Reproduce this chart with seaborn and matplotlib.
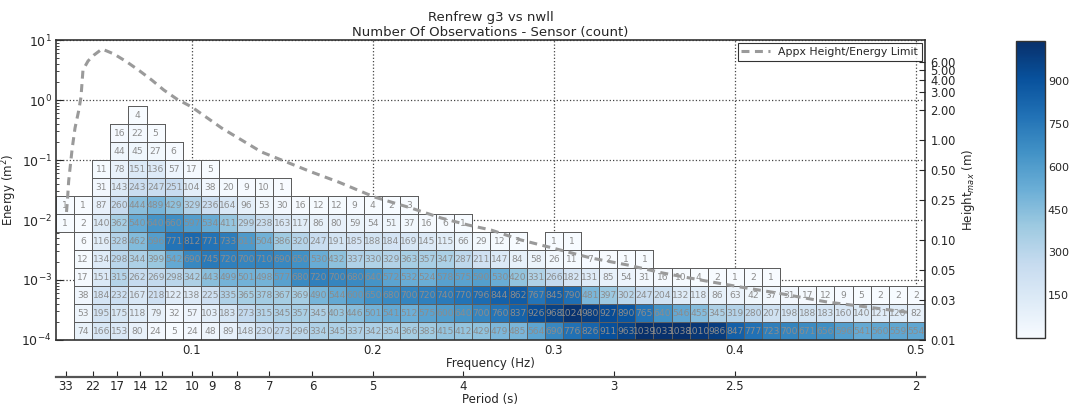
import numpy as np
import pandas as pd
import matplotlib
matplotlib.use("Agg")
import matplotlib.pyplot as plt
from matplotlib.ticker import NullLocator
import seaborn as sns

# ---------------- data ----------------
N = np.nan
# frequency bin centres (Hz), bin width 0.01
freq_centers = [0.03, 0.04, 0.05, 0.06, 0.07, 0.08, 0.09, 0.10, 0.11, 0.12, 0.13, 0.14,
                0.15, 0.16, 0.17, 0.18, 0.19, 0.20, 0.21, 0.22, 0.23, 0.24, 0.25, 0.26,
                0.27, 0.28, 0.29, 0.30, 0.31, 0.32, 0.33, 0.34, 0.35, 0.36, 0.37, 0.38,
                0.39, 0.40, 0.41, 0.42, 0.43, 0.44, 0.45, 0.46, 0.47, 0.48, 0.49, 0.50]
freq_step = 0.01
# log10(energy) lower edge of each row, rows 0.3 decades tall
log_energy_edges = [-4.0, -3.7, -3.4, -3.1, -2.8, -2.5, -2.2, -1.9, -1.6, -1.3, -1.0, -0.7, -0.4]
log_energy_step = 0.3

row_00 = [N, 74, 166, 153, 80, 24, 5, 24, 48, 89, 148, 230, 273, 296, 334, 345, 337, 342, 354, 366, 383,
          415, 412, 429, 479, 485, 564, 690, 776, 826, 911, 963, 1039, 1033, 1038, 1010, 986, 847, 777,
          723, 700, 671, 656, 596, 541, 560, 559, 554]
row_01 = [N, 53, 195, 175, 118, 79, 32, 57, 103, 183, 273, 315, 345, 357, 345, 403, 446, 501, 541, 512,
          575, 600, 640, 700, 760, 837, 926, 968, 1024, 980, 927, 890, 765, 640, 546, 455, 345, 319, 280,
          207, 198, 188, 183, 160, 140, 121, 120, 82]
row_02 = [N, 38, 184, 232, 167, 218, 122, 138, 225, 335, 365, 378, 367, 369, 490, 544, 600, 650, 680,
          700, 720, 740, 770, 796, 844, 862, 767, 845, 790, 481, 397, 302, 247, 204, 132, 118, 86, 63, 42,
          37, 31, 17, 12, 9, 5, 2, 2, 2]
row_03 = [N, 17, 151, 315, 262, 269, 298, 342, 443, 499, 501, 498, 577, 680, 720, 700, 680, 640, 572,
          532, 524, 578, 575, 590, 530, 420, 331, 266, 182, 131, 85, 54, 31, 16, 10, 4, 2, 1, 2, 1,
          N, N, N, N, N, N, N, N]
row_04 = [N, 12, 134, 298, 344, 399, 542, 690, 745, 720, 700, 710, 690, 650, 530, 432, 337, 330, 329,
          363, 357, 347, 287, 211, 147, 84, 58, 26, 11, 7, 2, 1, 1,
          N, N, N, N, N, N, N, N, N, N, N, N, N, N, N]
row_05 = [N, 6, 116, 328, 462, 596, 771, 812, 771, 733, 611, 504, 386, 320, 247, 191, 185, 188, 184,
          169, 145, 115, 66, 29, 12, 2, N, 1, 1,
          N, N, N, N, N, N, N, N, N, N, N, N, N, N, N, N, N, N, N]
row_06 = [1, 2, 140, 362, 540, 640, 660, 597, 534, 411, 299, 238, 163, 117, 86, 80, 59, 54, 51, 37, 16,
          6, 1] + [N] * 25
row_07 = [1, 1, 87, 260, 444, 489, 429, 329, 236, 164, 96, 53, 30, 16, 12, 12, 9, 4, 2, 3] + [N] * 28
row_08 = [N, N, 31, 143, 243, 247, 251, 104, 38, 20, 9, 10, 1] + [N] * 35
row_09 = [N, N, 11, 78, 151, 136, 57, 17, 5] + [N] * 39
row_10 = [N, N, N, 44, 45, 27, 6] + [N] * 41
row_11 = [N, N, N, 16, 22, 5] + [N] * 42
row_12 = [N, N, N, N, 4] + [N] * 43

# approximate height / energy limit curve
line_freq = [0.0308, 0.0314, 0.0320, 0.0339, 0.0355, 0.0375, 0.0388, 0.0399, 0.0427, 0.0460, 0.0504,
             0.0570, 0.0642, 0.0713, 0.0779, 0.0845, 0.0917, 0.1000, 0.1165, 0.1385, 0.1661, 0.1810,
             0.2008, 0.2212, 0.2377, 0.2526, 0.2653, 0.2818, 0.2994, 0.3204, 0.3407, 0.3600, 0.3810,
             0.4030, 0.4234, 0.4509, 0.4730, 0.4983]
line_energy = [0.0136, 0.0233, 0.0447, 0.152, 0.341, 0.656, 1.12, 3.16, 4.47, 5.62, 7.08,
               5.85, 4.30, 3.04, 2.15, 1.47, 1.04, 0.764, 0.341, 0.136, 0.0631, 0.0430,
               0.0242, 0.0158, 0.0108, 0.00826, 0.00681, 0.00465, 0.00341, 0.00233, 0.00178, 0.00131, 0.00100,
               0.000764, 0.000607, 0.000430, 0.000355, 0.000282]

freq_ticks = [0.1, 0.2, 0.3, 0.4, 0.5]
freq_ticklabels = ["0.1", "0.2", "0.3", "0.4", "0.5"]
energy_ticks = [1e-4, 1e-3, 1e-2, 1e-1, 1e0, 1e1]
energy_ticklabels = ["$10^{-4}$", "$10^{-3}$", "$10^{-2}$", "$10^{-1}$", "$10^{0}$", "$10^{1}$"]
height_ticks = [0.01, 0.025, 0.05, 0.1, 0.25, 0.5, 1, 2, 3, 4, 5, 6]
period_ticks = [33, 22, 17, 14, 12, 10, 9, 8, 7, 6, 5, 4, 3, 2.5, 2]
period_ticklabels = ["33", "22", "17", "14", "12", "10", "9", "8", "7", "6", "5", "4", "3", "2.5", "2"]
cbar_ticks = [150, 300, 450, 600, 750, 900]

# ---------------- figure ----------------
sns.set_style("white")
plt.rcParams["font.family"] = ["DejaVu Sans"]
plt.rcParams["mathtext.fontset"] = "dejavusans"

rows = [row_00, row_01, row_02, row_03, row_04, row_05, row_06, row_07, row_08, row_09, row_10, row_11, row_12]
counts = pd.DataFrame(np.array(rows, dtype=float),
                      index=[f"{e:.1f}" for e in log_energy_edges],
                      columns=[f"{f:.2f}" for f in freq_centers])

freq_lo = freq_centers[0] - freq_step / 2
log_lo = log_energy_edges[0]


def fx(f):
    return (np.asarray(f, dtype=float) - freq_lo) / freq_step


def fy(e):
    return (np.log10(np.asarray(e, dtype=float)) - log_lo) / log_energy_step


W, H = 1070, 404
fig = plt.figure(figsize=(W / 100, H / 100), dpi=100)
L, R, T, B = 56, 925, 40, 340
ax = fig.add_axes([L / W, 1 - B / H, (R - L) / W, (B - T) / H])
cax = fig.add_axes([1016 / W, 1 - 338 / H, 29 / W, 297 / H])

sns.heatmap(counts, ax=ax, cmap="Blues", vmin=1, vmax=1039, annot=True, fmt=".0f",
            annot_kws={"color": "#8c8c8c", "fontsize": 6.6},
            linewidths=0.5, linecolor="#5a5a5a", cbar_ax=cax,
            cbar_kws={"ticks": cbar_ticks}, xticklabels=False, yticklabels=False)

# only draw borders around non-empty cells
mesh = ax.collections[0]
empty = counts.isna().values.ravel()
edge_rgba = np.tile(np.array([[0.37, 0.37, 0.37, 1.0]]), (empty.size, 1))
edge_rgba[empty] = [0, 0, 0, 0]
mesh.set_edgecolor(edge_rgba)

ax.set_xlim(fx(freq_lo), fx(freq_centers[-1] + freq_step / 2))
ax.set_ylim(fy(1e-4), fy(1e1))

for s in ax.spines.values():
    s.set_visible(True)
    s.set_color("#333333")
    s.set_linewidth(1.2)

ax.set_xticks(fx(freq_ticks))
ax.set_xticklabels(freq_ticklabels, fontsize=8.5)
ax.set_yticks(fy(energy_ticks))
ax.set_yticklabels(energy_ticklabels, fontsize=9)
minor = [m * 10.0 ** k for k in range(-4, 1) for m in range(2, 10)]
ax.set_yticks(fy(minor), minor=True)
ax.tick_params(axis="x", which="both", length=0, pad=3)
ax.tick_params(axis="y", which="major", direction="in", length=5, width=0.8, left=True, pad=3)
ax.tick_params(axis="y", which="minor", direction="in", length=2.5, width=0.6, left=True)
ax.set_axisbelow(True)
ax.grid(True, which="major", linestyle=":", color="#444444", linewidth=0.9)

ax.plot(fx(line_freq), fy(line_energy), linestyle="--", dashes=(2.6, 1.8), color="#9a9a9a",
        linewidth=2.2, label="Appx Height/Energy Limit", zorder=6)
leg = ax.legend(loc="upper right", fontsize=7.8, frameon=True, fancybox=False, borderaxespad=0.3,
                handlelength=2.6, borderpad=0.35)
leg.get_frame().set_edgecolor("black")
leg.get_frame().set_linewidth(0.8)
leg.set_zorder(10)

ax.set_xlabel("Frequency (Hz)", fontsize=8.5, labelpad=0)
ax.set_ylabel("Energy (m$^2$)", fontsize=8.5, labelpad=2)
ax.set_title("Renfrew g3 vs nwll\nNumber Of Observations - Sensor (count)", fontsize=9.5, pad=3)

# right axis: height
ax3 = ax.twinx()
ax3.set_yscale("log")
ax3.set_ylim(0.01, 10)
ax3.set_yticks(height_ticks)
ax3.set_yticklabels([f"{h:.2f}" for h in height_ticks], fontsize=8.3)
ax3.yaxis.set_minor_locator(NullLocator())
ax3.tick_params(axis="y", direction="in", length=4, width=0.8, right=True, pad=4)
ax3.set_ylabel("Height$_{max}$ (m)", fontsize=8.5, labelpad=3)
for s in ax3.spines.values():
    s.set_visible(False)

# bottom period axis
pax = fig.add_axes([L / W, 1 - 377 / H, (R - L) / W, 0.0001])
pax.set_xlim(ax.get_xlim())
pax.patch.set_visible(False)
for side in ["top", "left", "right"]:
    pax.spines[side].set_visible(False)
pax.spines["bottom"].set_color("#555555")
pax.spines["bottom"].set_linewidth(1.6)
pax.set_yticks([])
pax.set_xticks(fx([1.0 / p for p in period_ticks]))
pax.set_xticklabels(period_ticklabels, fontsize=8.5)
pax.tick_params(axis="x", direction="in", length=4, width=0.8, pad=2, bottom=True)
pax.set_xlabel("Period (s)", fontsize=8.5, labelpad=0)

# colorbar styling
cbar = ax.collections[0].colorbar
cbar.outline.set_visible(True)
cbar.outline.set_linewidth(1.0)
cbar.outline.set_edgecolor("#333333")
cax.tick_params(labelsize=8, direction="in", length=4, right=True, width=0.8, pad=2)

fig.savefig("out.png", dpi=100)
